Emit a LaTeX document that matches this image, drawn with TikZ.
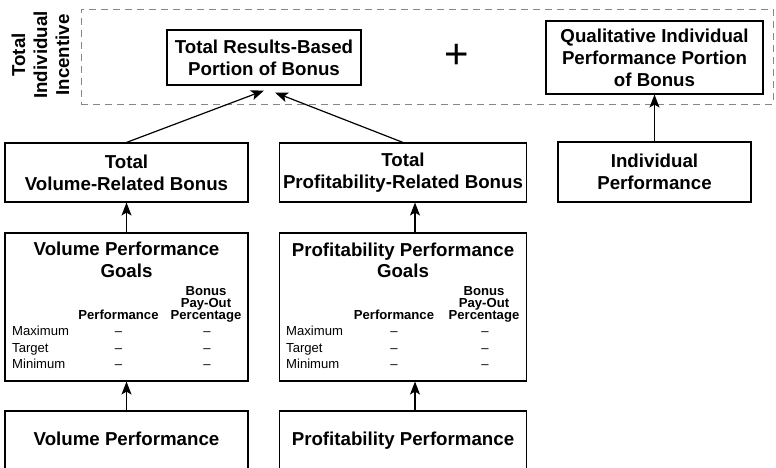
\documentclass[tikz,border=0pt]{standalone}
\usepackage{fontspec}
\setmainfont{Liberation Sans}
\usetikzlibrary{arrows.meta}
\newcommand\dgBox{\fontsize{18.7}{22}\selectfont\bfseries}
\newcommand\dgTab{\fontsize{13.1}{12}\selectfont}
\definecolor{framegray}{RGB}{135,135,135}
\tikzset{dgtip/.tip={Stealth[length=13pt,width=10pt,inset=3pt]}}
\begin{document}
\begin{tikzpicture}[x=1pt,y=1pt,
  box/.style={draw, line width=1.1pt, inner sep=0pt, align=center, font=\dgBox},
  arr/.style={-dgtip, line width=1.2pt},
  tab/.style={anchor=base, inner sep=0pt, font=\dgTab},
  tabb/.style={anchor=base, inner sep=0pt, font=\dgTab\bfseries},
  ttl/.style={anchor=base, inner sep=0pt, font=\dgBox}]
\useasboundingbox (0,0) rectangle (776,-468);
\clip (0,0) rectangle (776,-468);
% frame
\node[draw=framegray, line width=0.9pt, dash pattern=on 7pt off 5pt, minimum width=692, minimum height=95, inner sep=0pt] (frame) at (427,-56.5) {};
\node[align=center, rotate=90, font=\dgBox, inner sep=0pt] (tii) at (40.5,-55) {Total\\Individual\\Incentive};
\node[box, minimum width=194, minimum height=55] (rb) at (264,-57.5) {Total Results-Based\\Portion of Bonus};
\node[inner sep=0pt, font=\fontsize{42}{42}\selectfont] (plus) at (457,-56.5) {+};
\node[box, minimum width=217, minimum height=73] (qb) at (654.5,-57.5) {Qualitative Individual\\Performance Portion\\of Bonus};
% second row
\node[box, minimum width=243, minimum height=59] (vb) at (126.5,-172.5) {Total\\Volume-Related Bonus};
\node[box, minimum width=246.5, minimum height=59] (pb) at (403,-172.5) {Total\\Profitability-Related Bonus};
\node[box, minimum width=193, minimum height=60] (ip) at (654.5,-172) {Individual\\Performance};
% goals boxes
\node[box, minimum width=243, minimum height=148] (vg) at (126.5,-307) {};
\node[box, minimum width=246.5, minimum height=148] (pg) at (403,-307) {};
\node[ttl] (vg-t1) at (126.5,-255) {Volume Performance};
\node[ttl] (vg-t2) at (126.5,-277) {Goals};
\node[ttl] (pg-t1) at (403,-256) {Profitability Performance};
\node[ttl] (pg-t2) at (403,-277) {Goals};
\foreach \g/\lx/\px/\cx in {vg/12/118.5/206, pg/286/394/484} {
  \node[tabb] (\g-h1) at (\cx,-295) {Bonus};
  \node[tabb] (\g-h2) at (\cx,-307) {Pay-Out};
  \node[tabb] (\g-h3) at (\cx,-319) {Percentage};
  \node[tabb] (\g-h4) at (\px,-319) {Performance};
  \node[tab, anchor=base west] (\g-r1) at (\lx,-335) {Maximum};
  \node[tab, anchor=base west] (\g-r2) at (\lx,-352) {Target};
  \node[tab, anchor=base west] (\g-r3) at (\lx,-368.5) {Minimum};
  \foreach \yy [count=\i] in {335,352,368.5} {
    \node[tab] (\g-p\i) at (\px,-\yy) {--};
    \node[tab] (\g-c\i) at (\cx+1,-\yy) {--};
  }
}
% bottom boxes (cut off by page edge)
\node[box, minimum width=243, minimum height=58.5, text height=13.5pt, text depth=4pt] (vp) at (126.5,-440.25) {Volume Performance};
\node[box, minimum width=246.5, minimum height=58.5, text height=13.5pt, text depth=4pt] (pp) at (403,-440.25) {Profitability Performance};
% connectors
\draw[arr] (vb.north) -- ([yshift=-5pt]rb.south);
\draw[arr] (pb.north) -- ([xshift=11pt,yshift=-7pt]rb.south);
\draw[arr] (ip.north) -- (qb.south);
\draw[arr] (vg.north) -- (vb.south);
\draw[arr] (vp.north) -- (vg.south);
\draw[arr] ([xshift=12pt]pg.north) -- ([xshift=12pt]pb.south);
\draw[arr] ([xshift=12pt]pp.north) -- ([xshift=12pt]pg.south);
\end{tikzpicture}
\end{document}
